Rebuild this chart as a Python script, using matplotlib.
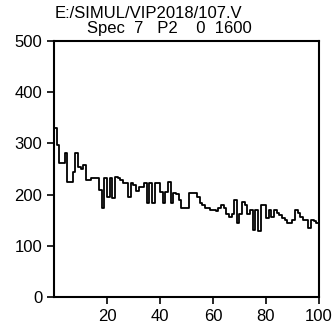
import matplotlib.pyplot as plt
import numpy as np

plt.rcParams['font.family'] = ['Liberation Sans', 'DejaVu Sans']

title_line1 = 'E:/SIMUL/VIP2018/107.V'
title_line2 = 'Spec  7   P2    0  1600'

start_count = 245
counts = [
    331, 297, 261, 261, 281, 225, 225, 245, 281, 254,
    250, 258, 228, 228, 232, 232, 232, 209, 174, 232,
    196, 232, 193, 234, 232, 228, 222, 222, 196, 222,
    218, 208, 214, 214, 222, 183, 222, 183, 222, 222,
    206, 183, 206, 225, 183, 203, 202, 189, 173, 173,
    173, 203, 203, 203, 196, 183, 180, 173, 173, 170,
    170, 167, 173, 180, 173, 163, 157, 163, 189, 144,
    163, 186, 180, 163, 170, 131, 170, 128, 180, 180,
    154, 170, 156, 170, 165, 160, 155, 150, 144, 144,
    150, 170, 165, 156, 150, 150, 135, 150, 148, 145,
]
channels = np.arange(0, len(counts) + 1)
values = [start_count] + counts

xticks = [20, 40, 60, 80, 100]
yticks = [0, 100, 200, 300, 400, 500]

fig = plt.figure(figsize=(3.34, 3.24), dpi=100)
ax = fig.add_axes([0.1617, 0.0833, 0.7933, 0.7902])
ax.step(channels, values, where='pre', color='black', linewidth=1.3)

ax.set_xlim(0, 100)
ax.set_ylim(0, 500)
ax.set_xticks(xticks)
ax.set_yticks(yticks)
ax.tick_params(labelsize=12, length=5, width=1.2, direction='out')
ax.tick_params(axis='x', pad=3.5)
ax.tick_params(axis='y', pad=3.5)
for s in ax.spines.values():
    s.set_linewidth(1.5)

fig.text(55 / 334, 1 - 13 / 324, title_line1, fontsize=12, ha='left', va='center')
fig.text(87 / 334, 1 - 29 / 324, title_line2, fontsize=12, ha='left', va='center')

fig.savefig('out.png', dpi=100)
